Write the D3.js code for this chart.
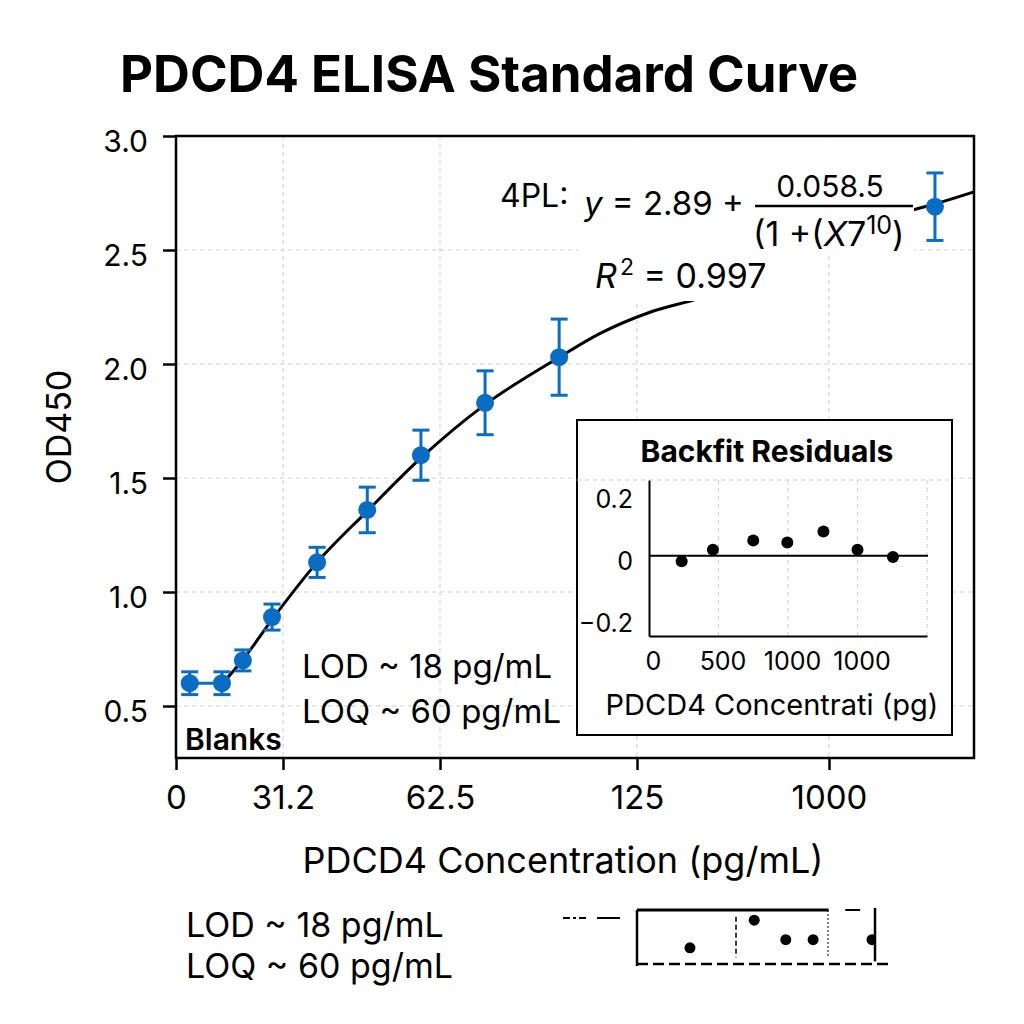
<!DOCTYPE html>
<html><head><meta charset="utf-8">
<script src="https://cdn.jsdelivr.net/npm/d3@7"></script>
<style>
body{margin:0;background:#fff;}
svg{display:block;font-family:Inter,"Noto Sans",sans-serif;}
</style>
</head><body>
<svg id="c" width="1024" height="1024"></svg>
<script>
// ---- data ----
const xTickValues = [0, 31.2, 62.5, 125, 1000];
const xTickLabels = ["0", "31.2", "62.5", "125", "1000"];
const yTickValues = [0.5, 1.0, 1.5, 2.0, 2.5, 3.0];
const stdConc = [4, 13.4, 19.5, 28, 38, 48, 58.7, 76.8, 100.3, 1483];
const stdOD   = [0.60, 0.60, 0.70, 0.89, 1.13, 1.36, 1.60, 1.83, 2.03, 2.69];
const stdErr  = [0.05, 0.05, 0.046, 0.057, 0.066, 0.10, 0.11, 0.14, 0.167, 0.148];
const fitConc = [13.4, 19.5, 28, 38, 48, 58.7, 76.8, 100.3, 113.3, 184, 412, 868, 1141, 1383, 1483, 1661];
const fitOD   = [0.597, 0.703, 0.879, 1.130, 1.355, 1.588, 1.822, 2.029, 2.134, 2.227, 2.289, 2.474, 2.584, 2.676, 2.702, 2.755];
const resConc = [235, 460, 750, 995, 1255, 1500, 1755];
const resVal  = [-0.018, 0.019, 0.049, 0.043, 0.078, 0.019, -0.004];
const resXTicks = [0, 500, 1000, 1500];
const resXLabels = ["0", "500", "1000", "1000"];
const resYTicks = [0.2, 0, -0.2];
const resYLabels = ["0.2", "0", "\u22120.2"];
const stripConc = [445, 985, 1250, 1480, 1975];
const stripRes  = [-0.08, 0.125, -0.02, -0.02, -0.02];

const BLUE = "#0a6cc2";
const svg = d3.select("#c");

// ---- main scales ----
const x = d3.scaleLinear().domain([0, 31.2, 62.5, 125, 1000, 1661]).range([176, 283, 440, 637, 829, 974]);
const y = d3.scaleLinear().domain([0.272, 3.0]).range([758, 136]);
const L = 176, R = 974, T = 136, B = 758;

// title
svg.append("text").attr("x", 120).attr("y", 92).attr("font-size", 51).attr("font-weight", 700)
  .text("PDCD4 ELISA Standard Curve");

// grid
const grid = svg.append("g").attr("stroke", "#cfcfcf").attr("stroke-width", 1).attr("stroke-dasharray", "4,4");
yTickValues.filter(v => v < 3).forEach(v => {
  grid.append("line").attr("x1", L).attr("x2", R).attr("y1", y(v)).attr("y2", y(v));
});
xTickValues.filter(v => v > 0).forEach(v => {
  grid.append("line").attr("x1", x(v)).attr("x2", x(v)).attr("y1", T).attr("y2", B);
});

// fit curve
const fitData = fitConc.map((c, i) => [c, fitOD[i]]);
svg.append("path").datum(fitData)
  .attr("d", d3.line().x(d => x(d[0])).y(d => y(d[1])).curve(d3.curveMonotoneX))
  .attr("fill", "none").attr("stroke", "#000").attr("stroke-width", 3);

// white boxes behind equation
svg.append("rect").attr("x", 578).attr("y", T + 2).attr("width", 336).attr("height", 115).attr("fill", "#fff");
svg.append("rect").attr("x", 580).attr("y", 252).attr("width", 245).attr("height", 49).attr("fill", "#fff");

// equation
svg.append("text").attr("x", 500).attr("y", 207).attr("font-size", 32).text("4PL:");
const eq = svg.append("text").attr("x", 584).attr("y", 215).attr("font-size", 33);
eq.append("tspan").attr("font-style", "italic").text("y");
eq.append("tspan").text(" = 2.89 +");
svg.append("line").attr("x1", 755).attr("x2", 913).attr("y1", 206).attr("y2", 206).attr("stroke", "#000").attr("stroke-width", 2.5);
svg.append("text").attr("x", 830).attr("y", 197).attr("font-size", 30).attr("text-anchor", "middle").text("0.058.5");
const den = svg.append("text").attr("x", 753).attr("y", 246).attr("font-size", 34);
den.append("tspan").text("(1 +(");
den.append("tspan").attr("font-style", "italic").text("X");
den.append("tspan").text("7");
den.append("tspan").attr("font-size", 25).attr("dy", -12).text("10");
den.append("tspan").attr("dy", 12).text(")");
const r2 = svg.append("text").attr("x", 595).attr("y", 288).attr("font-size", 34);
r2.append("tspan").attr("font-style", "italic").text("R");
r2.append("tspan").attr("font-size", 23).attr("dy", -13).attr("dx", 3).text("2");
r2.append("tspan").attr("dy", 13).text("  = 0.997");

// frame
svg.append("rect").attr("x", L).attr("y", T).attr("width", R - L).attr("height", B - T)
  .attr("fill", "none").attr("stroke", "#000").attr("stroke-width", 2.5);

// axes
const ya = svg.append("g").attr("transform", `translate(${L},0)`)
  .call(d3.axisLeft(y).tickValues(yTickValues).tickFormat(d3.format(".1f")).tickSize(13).tickPadding(15));
ya.select(".domain").remove();
ya.selectAll("line").attr("stroke-width", 2.5);
ya.selectAll("text").attr("font-size", 30).attr("font-family", "Inter").attr("fill", "#000").attr("dy", "0.5em");

const xa = svg.append("g").attr("transform", `translate(0,${B})`)
  .call(d3.axisBottom(x).tickValues(xTickValues).tickFormat((d, i) => xTickLabels[i]).tickSize(12).tickPadding(16));
xa.select(".domain").remove();
xa.selectAll("line").attr("stroke-width", 2.5);
xa.selectAll("text").attr("font-size", 33).attr("font-family", "Inter").attr("fill", "#000");

svg.append("text").attr("transform", "translate(58,427) rotate(-90)").attr("text-anchor", "middle")
  .attr("dominant-baseline", "central").attr("font-size", 34).text("OD450");
svg.append("text").attr("x", 563).attr("y", 873).attr("text-anchor", "middle").attr("font-size", 36)
  .text("PDCD4 Concentration (pg/mL)");

// blanks connector
svg.append("line").attr("x1", x(stdConc[0])).attr("x2", x(stdConc[1]))
  .attr("y1", y(stdOD[0])).attr("y2", y(stdOD[1])).attr("stroke", BLUE).attr("stroke-width", 3);

// error bars + points
const std = stdConc.map((c, i) => ({c, v: stdOD[i], e: stdErr[i]}));
const eb = svg.append("g").attr("stroke", BLUE).attr("stroke-width", 3);
std.forEach(d => {
  const cx = x(d.c);
  eb.append("line").attr("x1", cx).attr("x2", cx).attr("y1", y(d.v - d.e)).attr("y2", y(d.v + d.e));
  eb.append("line").attr("x1", cx - 8.5).attr("x2", cx + 8.5).attr("y1", y(d.v - d.e)).attr("y2", y(d.v - d.e));
  eb.append("line").attr("x1", cx - 8.5).attr("x2", cx + 8.5).attr("y1", y(d.v + d.e)).attr("y2", y(d.v + d.e));
});
svg.append("g").selectAll("circle").data(std).join("circle")
  .attr("cx", d => x(d.c)).attr("cy", d => y(d.v)).attr("r", 9).attr("fill", BLUE);

// annotations
svg.append("text").attr("x", 302).attr("y", 678).attr("font-size", 33).text("LOD ~ 18 pg/mL");
svg.append("text").attr("x", 302).attr("y", 723).attr("font-size", 33).text("LOQ ~ 60 pg/mL");
svg.append("text").attr("x", 185).attr("y", 750).attr("font-size", 30).attr("font-weight", 600).text("Blanks");

// ---- inset ----
svg.append("rect").attr("x", 577).attr("y", 420).attr("width", 375).attr("height", 315)
  .attr("fill", "#fff").attr("stroke", "#000").attr("stroke-width", 2);
const rx = d3.scaleLinear().domain([0, 2000]).range([649, 927]);
const ry = d3.scaleLinear().domain([-0.26, 0.245]).range([636, 480]);
svg.append("text").attr("x", 767).attr("y", 462).attr("text-anchor", "middle").attr("font-size", 30)
  .attr("font-weight", 700).text("Backfit Residuals");
const ig = svg.append("g").attr("stroke", "#cfcfcf").attr("stroke-width", 1).attr("stroke-dasharray", "4,4");
[500, 1000, 1500, 2000].forEach(v => {
  ig.append("line").attr("x1", rx(v)).attr("x2", rx(v)).attr("y1", ry.range()[1]).attr("y2", ry.range()[0]);
});
ig.append("line").attr("x1", 577).attr("x2", 952).attr("y1", ry.range()[1]).attr("y2", ry.range()[1]);
svg.append("line").attr("x1", rx(0)).attr("x2", rx(2000) + 1).attr("y1", ry(0)).attr("y2", ry(0))
  .attr("stroke", "#000").attr("stroke-width", 2);
const iya = svg.append("g").attr("transform", `translate(${rx(0)},0)`)
  .call(d3.axisLeft(ry).tickValues(resYTicks).tickFormat((d, i) => resYLabels[i]).tickSize(0).tickSizeOuter(0).tickPadding(16));
iya.select(".domain").attr("stroke-width", 2);
iya.selectAll("text").attr("font-size", 25).attr("font-family", "Inter").attr("fill", "#000").attr("dy", "0.55em");
const ixa = svg.append("g").attr("transform", `translate(0,${ry.range()[0]})`)
  .call(d3.axisBottom(rx).tickValues(resXTicks).tickFormat((d, i) => resXLabels[i]).tickSize(0).tickSizeOuter(0).tickPadding(16));
ixa.select(".domain").attr("stroke-width", 2);
ixa.selectAll("text").attr("font-size", 25).attr("font-family", "Inter").attr("fill", "#000").attr("dx", 4);
svg.append("text").attr("x", 772).attr("y", 715).attr("text-anchor", "middle").attr("font-size", 29)
  .text("PDCD4 Concentrati (pg)");
svg.append("g").selectAll("circle").data(resConc).join("circle")
  .attr("cx", d => rx(d)).attr("cy", (d, i) => ry(resVal[i])).attr("r", 6).attr("fill", "#000");

// ---- bottom legend text ----
svg.append("text").attr("x", 186).attr("y", 937).attr("font-size", 34).text("LOD ~ 18 pg/mL");
svg.append("text").attr("x", 186).attr("y", 978).attr("font-size", 34).text("LOQ ~ 60 pg/mL");

// ---- bottom-right residual strip ----
const sx = d3.scaleLinear().domain([0, 2000]).range([637, 875]);
const sy = d3.scaleLinear().domain([-0.2, 0.2]).range([964, 910]);
const st = svg.append("g").attr("stroke", "#000").attr("fill", "none");
st.append("line").attr("x1", 563).attr("x2", 588).attr("y1", 918).attr("y2", 918).attr("stroke-width", 2).attr("stroke-dasharray", "7,3,3,3");
st.append("line").attr("x1", 597).attr("x2", 620).attr("y1", 918).attr("y2", 918).attr("stroke-width", 2);
st.append("line").attr("x1", sx(0)).attr("x2", sx(1610)).attr("y1", sy(0.2)).attr("y2", sy(0.2)).attr("stroke-width", 3);
st.append("line").attr("x1", sx(0)).attr("x2", sx(0)).attr("y1", sy(0.2)).attr("y2", sy(-0.2) + 2).attr("stroke-width", 2.5);
st.append("line").attr("x1", sx(0)).attr("x2", sx(2130)).attr("y1", sy(-0.2)).attr("y2", sy(-0.2)).attr("stroke-width", 2.5).attr("stroke-dasharray", "11,5");
st.append("line").attr("x1", sx(832)).attr("x2", sx(832)).attr("y1", sy(0.15)).attr("y2", sy(-0.15)).attr("stroke-width", 1.5).attr("stroke-dasharray", "5,3");
st.append("line").attr("x1", sx(1605)).attr("x2", sx(1605)).attr("y1", sy(0.2)).attr("y2", sy(-0.15)).attr("stroke-width", 1).attr("stroke-dasharray", "2,2");
st.append("line").attr("x1", sx(1750)).attr("x2", sx(1875)).attr("y1", sy(0.2)).attr("y2", sy(0.2)).attr("stroke-width", 2);
st.append("line").attr("x1", sx(2000)).attr("x2", sx(2000)).attr("y1", sy(0.215)).attr("y2", sy(-0.18)).attr("stroke-width", 2.5);
svg.append("clipPath").attr("id", "stripClip").append("rect").attr("x", sx(0)).attr("y", 880).attr("width", sx(2000) - sx(0)).attr("height", 100);
svg.append("g").attr("clip-path", "url(#stripClip)").selectAll("circle").data(stripConc).join("circle")
  .attr("cx", d => sx(d)).attr("cy", (d, i) => sy(stripRes[i])).attr("r", 5.5).attr("fill", "#000");
</script>
</body></html>
